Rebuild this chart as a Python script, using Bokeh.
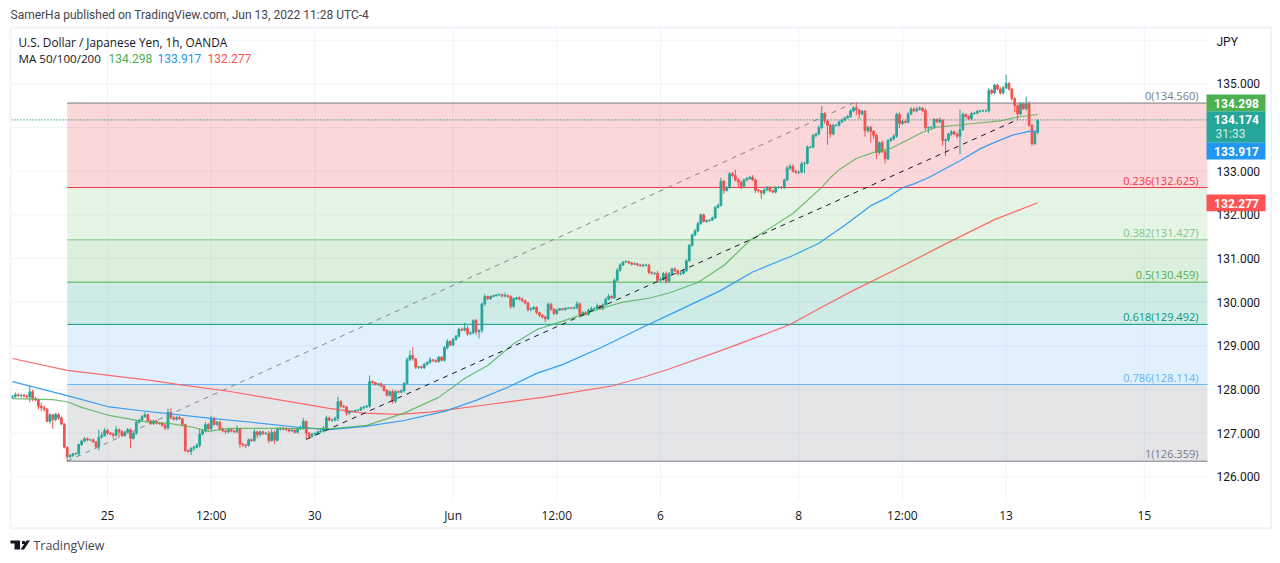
from bokeh.embed import file_html
from bokeh.resources import INLINE
from bokeh.plotting import figure
from bokeh.core.properties import value
from bokeh.models import Label, FixedTicker, ColumnDataSource, Range1d, BoxAnnotation, PolyAnnotation
import numpy as np

FONT = "Open Sans"
NUM = "Roboto"
UP, DOWN = "#26A69A", "#EF5350"

closes = [
 127.84,127.88,127.86,127.87,127.85,127.83,127.95,127.79,127.76,127.62,
 127.58,127.55,127.27,127.42,127.31,127.43,127.35,127.21,126.68,126.46,
 126.49,126.53,126.53,126.74,126.82,126.87,126.85,126.85,126.80,126.69,
 126.91,126.95,127.06,127.00,126.98,126.95,127.08,127.03,126.95,127.02,
 127.08,126.88,127.00,127.25,127.30,127.38,127.42,127.28,127.22,127.28,
 127.23,127.22,127.18,127.12,127.48,127.35,127.32,127.36,127.33,127.20,
 126.60,126.58,126.65,126.68,126.72,126.98,127.05,127.20,127.10,127.34,
 127.20,127.25,127.10,127.05,127.03,127.08,127.05,127.03,127.10,126.75,
 126.73,126.72,126.85,126.83,127.03,126.96,127.03,126.99,127.00,126.83,
 127.02,126.84,127.09,127.11,127.09,127.08,127.05,127.07,127.02,127.10,
 127.12,127.27,127.00,126.93,126.98,126.99,127.03,127.05,127.12,127.35,
 127.30,127.30,127.34,127.72,127.62,127.60,127.46,127.50,127.50,127.52,
 127.53,127.58,127.60,127.62,128.18,128.16,128.12,128.13,128.08,127.98,
 127.87,127.95,127.73,127.95,127.94,127.97,128.14,128.68,128.78,128.70,
 128.51,128.52,128.50,128.58,128.62,128.68,128.66,128.64,128.74,128.67,
 128.96,129.10,129.02,129.15,129.22,129.38,129.36,129.40,129.28,129.30,
 129.58,129.32,129.35,129.96,130.13,130.08,130.13,130.15,130.17,130.17,
 130.14,130.15,130.13,129.90,130.08,130.10,130.07,130.03,129.98,129.83,
 129.85,129.88,129.76,129.70,129.66,129.62,129.95,129.84,129.74,129.82,
 129.85,129.83,129.86,129.87,129.86,129.87,129.96,129.70,129.76,129.72,
 129.82,129.85,129.85,129.92,129.85,129.94,130.07,130.13,130.10,130.50,
 130.73,130.85,130.92,130.93,130.90,130.87,130.88,130.85,130.83,130.85,
 130.85,130.68,130.66,130.66,130.50,130.52,130.65,130.48,130.65,130.76,
 130.72,130.65,130.66,130.72,130.95,131.30,131.54,131.63,131.80,132.00,
 131.85,131.87,131.88,131.93,132.17,132.22,132.77,132.56,132.63,132.94,
 132.90,132.80,132.75,132.65,132.80,132.83,132.86,132.80,132.56,132.55,
 132.50,132.57,132.63,132.55,132.52,132.63,132.63,132.62,132.80,133.07,
 133.11,133.00,132.97,132.98,133.17,133.18,133.55,133.55,133.82,133.85,
 134.00,134.32,134.15,134.05,133.85,134.05,134.05,134.13,134.17,134.22,
 134.25,134.38,134.45,134.40,134.31,134.37,133.93,134.00,133.91,133.82,
 133.43,133.65,133.45,133.28,133.70,133.74,133.80,134.30,134.09,134.14,
 134.12,134.31,134.42,134.38,134.42,134.44,134.39,133.99,134.00,134.00,
 134.18,134.13,134.17,133.70,133.72,133.85,133.90,133.85,133.80,133.95,
 134.30,134.25,134.20,134.32,134.33,134.37,134.38,134.38,134.38,134.85,
 134.79,134.97,134.88,134.79,134.91,135.01,134.88,134.66,134.50,134.31,
 134.54,134.43,134.54,134.05,133.63,133.89,134.17]

# wick lengths above / below the candle body, in hundredths of a yen
upper_wick = [
 3,5,4,3,3,4,14,5,4,3, 8,5,3,3,3,4,4,3,2,0, 3,2,3,2,3,4,3,2,3,2,
 17,8,6,4,3,3,8,3,4,3, 4,3,3,4,3,4,6,3,3,3, 3,2,3,3,8,10,5,3,3,2,
 0,3,3,3,5,12,4,5,3,6, 4,3,3,3,3,3,2,3,8,2, 3,2,3,3,6,3,3,3,3,5,
 7,4,4,3,3,4,3,3,3,3, 6,8,2,3,3,3,3,4,4,5, 3,3,4,11,4,3,2,2,2,3,
 2,3,3,3,14,3,2,2,3,2, 3,3,5,4,3,3,3,5,11,19, 3,2,3,3,3,6,2,3,3,2,
 4,5,3,3,3,3,4,13,6,3, 3,4,3,3,5,2,2,2,2,3, 3,7,3,3,3,2,3,3,3,3,
 3,3,3,2,3,3,4,3,3,3, 2,2,2,2,2,3,6,3,3,3, 3,5,3,5,2,3,4,6,3,4,
 5,4,2,3,2,2,3,2,2,3, 3,3,3,3,6,5,4,5,4,3, 4,3,3,3,3,3,3,5,4,3,
 3,2,2,3,3,4,8,3,3,4, 4,14,4,4,3,4,3,5,3,3, 2,3,3,3,3,3,3,3,3,5,
 6,5,3,3,5,4,4,3,3,3, 5,17,3,3,3,3,3,3,3,3, 4,4,4,12,3,4,3,4,4,3,
 3,3,5,3,3,4,5,4,5,3, 3,4,5,5,6,5,3,5,3,3, 3,3,6,2,3,3,4,3,3,45,
 4,2,3,4,3,3,3,3,3,6, 3,3,4,5,4,20,3,3,4,3, 4,3,17,6,3,3,2]
lower_wick = [
 3,3,3,4,3,4,12,6,3,7, 8,6,2,5,21,4,5,3,3,10, 3,4,3,5,3,3,4,3,2,4,
 8,3,3,4,3,8,3,14,3,3, 3,22,3,4,3,3,3,4,3,3, 3,3,3,5,4,3,3,3,3,4,
 3,3,8,5,3,5,3,3,4,3, 3,3,4,3,5,3,3,3,3,8, 5,6,3,3,3,8,4,3,3,6,
 3,8,3,3,2,3,3,2,3,3, 3,4,14,6,3,3,3,3,3,4, 3,5,3,6,4,3,6,3,3,3,
 2,2,3,3,4,3,3,4,3,3, 3,3,6,4,3,3,4,3,3,4, 4,4,3,3,3,3,3,3,3,3,
 3,4,3,3,3,3,3,3,5,4, 3,7,15,5,4,3,3,2,2,2, 3,3,3,5,3,3,3,3,3,5,
 4,3,4,4,3,8,3,4,4,3, 2,2,2,2,2,3,3,5,3,3, 3,3,3,3,2,3,3,3,3,3,
 3,3,2,2,3,3,2,3,2,3, 3,4,3,4,5,3,3,5,4,3, 3,4,3,3,3,3,3,3,3,3,
 3,3,3,2,3,3,3,8,3,3, 3,3,12,6,3,4,3,3,6,4, 13,4,3,3,3,3,3,3,3,3,
 4,3,3,4,3,22,3,3,3,5, 3,4,6,45,8,3,3,3,3,3, 3,3,3,12,12,3,14,5,25,8,
 15,5,4,10,3,3,4,4,10,3, 3,3,3,3,3,3,3,5,12,4, 3,3,3,12,36,5,5,3,5,41,
 3,3,3,3,3,3,3,3,3,4, 4,3,3,4,3,3,3,4,15,15, 3,3,4,3,5,3,4]
first_open = 127.82

ma50_bar = [1,15,20,25,35,46,56,64,69,76,88,96,104,111,124,137,149,158,166,175,183,195,205,213,222,229,
            239,248,257,261,272,282,285,288,294,300,306,317,322,333,344,350,357]
ma50_val = [127.79,127.77,127.72,127.59,127.40,127.27,127.22,127.13,127.04,127.11,127.11,127.11,127.11,127.10,
            127.18,127.46,127.82,128.25,128.55,129.05,129.37,129.63,129.85,130.00,130.09,130.21,
            130.45,130.84,131.41,131.57,132.03,132.63,132.85,133.03,133.29,133.43,133.52,133.89,134.01,134.08,134.15,134.24,134.298]
ma100_bar = [1,20,34,45,70,84,101,111,123,137,151,162,174,183,192,206,220,229,247,258,272,281,290,299,305,310,314,319,
             330,337,342,348,354,357]
ma100_val = [128.18,127.86,127.61,127.52,127.34,127.25,127.13,127.08,127.15,127.29,127.50,127.75,128.08,128.37,
             128.57,128.98,129.43,129.71,130.27,130.69,131.07,131.35,131.76,132.21,132.40,132.62,132.71,132.85,
             133.24,133.51,133.66,133.82,133.91,133.917]
ma200_bar = [1,20,49,59,76,111,123,135,146,169,185,209,220,229,247,260,271,281,293,306,326,342,357]
ma200_val = [128.71,128.44,128.21,128.11,127.96,127.57,127.46,127.43,127.48,127.68,127.82,128.08,128.28,128.47,
             128.89,129.21,129.49,129.85,130.27,130.69,131.37,131.89,132.277]

fib_levels = ["0","0.236","0.382","0.5","0.618","0.786","1"]
fib_prices = [134.560,132.625,131.427,130.459,129.492,128.114,126.359]
fib_colors = ["#787B86","#F23645","#81C784","#4CAF50","#089981","#64B5F6","#787B86"]
band_colors = ["#F23645","#81C784","#4CAF50","#089981","#64B5F6","#787B86"]
fib_start_bar = 20
fib_end_bar = 293

trend_bars = [103,349]
trend_vals = [126.86,134.15]

last_price = 134.174

tick_bars = [34,70,106,154,190,226,274,310,346,394]
tick_labels = ["25","12:00","30","Jun","12:00","6","8","12:00","13","15"]
price_ticks = [126,127,128,129,130,131,132,133,134,135]
grid_prices = price_ticks + [136]

# the pane's edges, in bars and yen
pane_left, pane_right = 0.667, 415.94
pane_bottom, pane_top = 125.458, 136.266

# the frame takes the whole canvas, so that tags and texts can lie around the pane
p = figure(width=1272, height=555, output_backend="svg", toolbar_location=None,
           x_range=Range1d(-3.153, 438.51), y_range=Range1d(124.199, 136.908),
           y_axis_location="right",
           min_border_left=0, min_border_right=0, min_border_top=0, min_border_bottom=0,
           outline_line_color=None, background_fill_color="white", border_fill_color="white")
p.grid.visible = False

# grid lines, drawn from the ticks and held inside the pane
G = "#F0F3FA"
p.segment(x0=tick_bars, x1=tick_bars, y0=[pane_bottom]*len(tick_bars), y1=[pane_top]*len(tick_bars),
          line_color=G, line_width=1)
p.segment(x0=[pane_left]*len(grid_prices), x1=[pane_right]*len(grid_prices), y0=grid_prices, y1=grid_prices,
          line_color=G, line_width=1)

xa = p.xaxis[0]
ya = p.yaxis[0]
xa.fixed_location = pane_bottom
ya.fixed_location = pane_right
xa.ticker = FixedTicker(ticks=tick_bars)
ya.ticker = FixedTicker(ticks=price_ticks)
xa.major_label_overrides = {b: t for b, t in zip(tick_bars, tick_labels)}
ya.major_label_overrides = {t: f"{t:.3f}" for t in price_ticks}
for ax in (xa, ya):
    ax.axis_line_color = None
    ax.major_tick_line_color = None
    ax.minor_tick_line_color = None
    ax.major_tick_out = 0
    ax.major_tick_in = 0
    ax.major_label_text_font_size = "12px"
    ax.major_label_text_color = "#131722"
xa.major_label_text_font = FONT
ya.major_label_text_font = NUM
xa.major_label_standoff = 6
ya.major_label_standoff = 9

# Fibonacci bands
p.quad(left=[fib_start_bar]*6, right=[pane_right]*6, top=fib_prices[:-1], bottom=fib_prices[1:],
       fill_color=band_colors, fill_alpha=0.2, line_color=None)
p.segment(x0=[fib_start_bar]*7, x1=[pane_right]*7, y0=fib_prices, y1=fib_prices,
          line_color=fib_colors, line_width=1)
p.text(x=[412.8]*7, y=fib_prices,
       text=[f"{l}({v:.3f})" for l, v in zip(fib_levels, fib_prices)],
       text_color=fib_colors, text_font=value(FONT), text_font_size="11px",
       text_align="right", text_baseline="bottom", y_offset=0)
p.line([fib_start_bar, fib_end_bar], [fib_prices[-1], fib_prices[0]],
       line_color="#787B86", line_dash=[5, 5], line_width=1, line_alpha=0.9)

# current price line
p.line([pane_left, pane_right], [last_price, last_price], line_color="#138A7E", line_dash=[1, 2], line_width=1.2)

# candles
c = np.array(closes)
o = np.concatenate([[first_open], c[:-1]])
up = np.array(upper_wick) / 100
dn = np.array(lower_wick) / 100
hi = np.maximum(o, c) + up
lo = np.minimum(o, c) - dn
idx = np.arange(1, len(c) + 1)
col = [UP if a >= b else DOWN for a, b in zip(c, o)]
src = ColumnDataSource(dict(x=idx, o=o, c=c, h=hi, l=lo, col=col))
p.segment(x0="x", x1="x", y0="h", y1="l", line_color="col", line_width=1, source=src)
p.vbar(x="x", width=0.6, top="o", bottom="c", fill_color="col", line_color="col", line_width=1, source=src)

# moving averages
p.line(ma200_bar, ma200_val, line_color="#FF5252", line_width=1.2, line_alpha=0.85)
p.line(ma100_bar, ma100_val, line_color="#2196F3", line_width=1.2, line_alpha=0.9)
p.line(ma50_bar, ma50_val, line_color="#4CAF50", line_width=1.2, line_alpha=0.8)

# trend line
p.line(trend_bars, trend_vals, line_color="#131722", line_dash=[5, 5], line_width=1)

def txt(x, y, s, size="12px", color="#434651", style="normal", align="left", alpha=1.0, font=FONT):
    p.add_layout(Label(x=x, y=y, x_units="canvas", y_units="canvas", text=s,
                       text_font=font, text_font_size=size, text_color=color, text_font_style=style,
                       text_align=align, text_baseline="middle", text_alpha=alpha))

def box(l, t, r, b, fill=None, line=None, lw=1):
    p.add_layout(BoxAnnotation(left=l, right=r, top=t, bottom=b,
                               left_units="canvas", right_units="canvas", top_units="canvas", bottom_units="canvas",
                               fill_color=fill, fill_alpha=1 if fill else 0, line_color=line, line_width=lw,
                               line_alpha=1 if line else 0, level="annotation"))

def poly(xs, ys, color="#131722"):
    p.add_layout(PolyAnnotation(xs=xs, ys=ys, xs_units="canvas", ys_units="canvas",
                                fill_color=color, fill_alpha=1, line_color=None))

# outer frame
box(10, 27, 1270.5, 527.7, line="#F0F3FA", lw=2)

# price tags
box(1206, 94, 1265, 110.7, fill="#4CAF50")
box(1206, 110.7, 1265, 142.3, fill="#26A69A")
box(1206, 142.3, 1265, 159, fill="#2196F3")
box(1206, 194, 1265, 210.7, fill="#FF5252")
txt(1236, 102.5, "134.298", color="white", style="bold", align="center", font=NUM)
txt(1236, 119, "134.174", color="white", style="bold", align="center", font=NUM)
txt(1230, 133, "31:33", color="white", align="center", alpha=0.8, font=NUM)
txt(1236, 150.5, "133.917", color="white", style="bold", align="center", font=NUM)
txt(1236, 202.5, "132.277", color="white", style="bold", align="center", font=NUM)

# texts
txt(10, 14, "SamerHa published on TradingView.com, Jun 13, 2022 11:28 UTC-4", color="#434651", font=NUM)
txt(18, 41, "U.S. Dollar / Japanese Yen, 1h, OANDA", size="11.8px", color="#131722")
txt(18, 58, "MA 50/100/200", size="11.6px", color="#131722")
txt(108, 58, "134.298", color="#4CAF50", font=NUM)
txt(157, 58, "133.917", color="#2196F3", font=NUM)
txt(207, 58, "132.277", color="#FF5252", font=NUM)
txt(1216, 41, "JPY", color="#131722", font=NUM)
txt(33, 545, "TradingView", size="12.4px", color="#434651")

# logo
poly([10, 19.5, 19.5, 14, 14, 10], [540, 540, 549, 549, 543, 543])
poly([26, 29.5, 23.5, 20], [540, 540, 549, 549])
poly([21.5, 24.5, 24.5, 21.5], [540.5, 540.5, 543.5, 543.5])

open("out.html", "w").write(file_html(p, INLINE))
